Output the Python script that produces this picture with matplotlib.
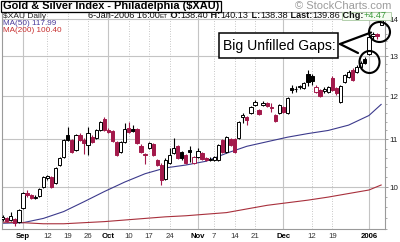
import matplotlib
matplotlib.use("Agg")
import matplotlib.pyplot as plt
import numpy as np
from matplotlib.patches import Rectangle, Ellipse
from matplotlib.lines import Line2D
from matplotlib.ticker import FixedLocator, NullFormatter, FixedFormatter

# ---------------- data ----------------
# trading-day index: 0 = 1-Sep-2005 ... 85 = 3-Jan-2006, 88 = 6-Jan-2006
day_idx = list(range(-5, 89))
opens = [93.78, 93.97, 93.60, 93.78, 93.22,
         95.88, 98.80, 98.41, 97.82, 98.21, 100.00, 101.82, 102.02, 100.80, 104.51,
         106.20, 110.98, 109.88, 107.70, 110.98, 109.88, 108.78, 110.54, 110.32, 112.10,
         114.60, 112.10, 111.88, 109.44, 107.27, 109.44, 112.55, 112.33, 112.33, 108.56,
         106.84, 108.13, 109.00, 105.56, 104.51, 101.61, 104.93, 107.05, 108.56, 107.27,
         106.62, 107.70, 104.93, 106.20, 107.05, 105.98, 105.56, 105.56, 105.56, 109.88,
         107.27, 110.10, 110.10, 110.32, 115.06, 115.06, 115.99, 117.86, 116.69, 117.86,
         118.34, 117.39, 115.52, 115.99, 117.39, 115.99, 121.94, 121.58, 122.07, 121.94,
         125.42, 124.91, 120.97, 121.46, 121.33, 120.97, 124.41, 121.94, 118.58, 123.42,
         124.66, 126.43, 125.92, 127.19, 129.24, 130.50, 135.30, 135.80, 138.40]
highs = [94.54, 94.16, 95.12, 93.97, 95.69,
         99.00, 99.40, 98.61, 98.41, 99.80, 102.23, 102.43, 102.23, 104.09, 106.20,
         110.10, 112.78, 110.10, 111.20, 111.43, 110.32, 112.78, 110.98, 112.33, 114.14,
         115.06, 112.55, 112.10, 109.66, 109.66, 113.69, 113.92, 113.23, 112.55, 109.00,
         107.05, 109.44, 109.22, 105.77, 104.93, 105.98, 108.13, 110.32, 108.78, 107.48,
         106.84, 108.56, 106.41, 108.13, 107.27, 106.20, 106.20, 106.41, 109.00, 110.10,
         110.76, 110.32, 110.32, 114.14, 115.99, 115.29, 117.63, 119.05, 116.92, 118.81,
         118.58, 118.34, 115.76, 118.10, 117.63, 119.77, 122.68, 122.43, 122.68, 123.42,
         126.43, 125.42, 122.68, 121.70, 122.19, 122.43, 124.91, 122.19, 122.68, 125.42,
         126.43, 126.94, 127.70, 128.72, 129.76, 135.61, 136.30, 136.20, 140.13]
lows = [93.41, 93.22, 93.41, 92.48, 93.04,
        95.69, 98.02, 97.62, 97.62, 98.02, 99.80, 101.41, 99.80, 100.60, 104.30,
        105.98, 109.66, 107.05, 107.48, 109.66, 106.84, 106.62, 109.22, 110.10, 111.88,
        111.88, 111.43, 109.44, 106.41, 107.05, 109.22, 111.43, 111.65, 109.00, 107.05,
        104.72, 107.91, 106.41, 104.30, 100.40, 101.41, 104.72, 106.84, 105.77, 105.56,
        104.72, 105.14, 104.72, 105.98, 105.56, 105.35, 105.35, 105.35, 105.35, 107.05,
        107.05, 108.56, 107.05, 110.10, 113.69, 113.23, 115.76, 117.63, 115.52, 117.63,
        117.39, 116.22, 113.92, 115.76, 115.99, 115.76, 120.73, 120.97, 121.70, 121.70,
        122.43, 122.68, 120.73, 119.77, 120.73, 120.73, 121.21, 120.25, 118.34, 123.17,
        124.41, 123.66, 125.67, 126.94, 127.95, 130.28, 134.60, 134.50, 138.38]
closes = [94.16, 93.41, 94.35, 93.04, 95.50,
          98.80, 98.41, 97.82, 98.02, 99.60, 102.02, 102.23, 100.00, 103.88, 105.98,
          109.88, 109.88, 107.27, 110.98, 109.88, 109.22, 111.43, 109.44, 112.10, 113.92,
          112.10, 111.65, 109.66, 106.62, 109.44, 112.33, 111.65, 111.88, 109.22, 107.27,
          106.62, 109.22, 106.62, 104.51, 101.41, 105.56, 106.62, 108.13, 105.98, 105.98,
          104.93, 107.27, 106.20, 107.48, 105.77, 105.56, 105.77, 106.20, 108.78, 107.27,
          110.54, 108.78, 107.27, 113.92, 115.52, 114.37, 117.39, 118.58, 115.76, 118.34,
          117.63, 117.16, 114.14, 117.86, 116.22, 119.53, 121.46, 121.82, 122.31, 123.17,
          123.42, 123.66, 122.19, 120.01, 121.58, 122.19, 121.46, 120.73, 122.43, 125.16,
          125.92, 123.91, 127.19, 128.21, 128.21, 135.10, 135.90, 135.39, 139.86]

ma_idx = [-5, 0, 5, 10, 15, 20, 25, 30, 35, 40, 45, 50, 55, 60, 65, 70, 75, 80, 85, 88]
ma50 = [93.0, 93.1, 93.9, 95.2, 97.1, 99.1, 101.0, 102.7, 103.9, 104.5,
        105.3, 107.0, 108.5, 109.5, 110.5, 111.3, 112.0, 113.2, 115.4, 117.99]
ma200 = [93.2, 93.1, 92.9, 92.9, 93.1, 93.3, 93.6, 93.9, 94.2, 94.4,
         94.7, 95.0, 95.7, 96.4, 96.9, 97.4, 98.0, 98.7, 99.4, 100.40]

tick_idx = [0, 6, 11, 16, 21, 26, 31, 36, 43, 47, 52, 57, 64, 71, 76, 85]
tick_lbl = ['Sep', '12', '19', '26', 'Oct', '10', '17', '24', 'Nov', '7', '14', '21',
            'Dec', '12', '19', '2006']
month_ticks = {'Sep', 'Oct', 'Nov', 'Dec', '2006'}
y_ticks = [100, 110, 120, 130, 140]
y_lbl = ['10', '11', '12', '13', '14']

symbol = '$XAU'
title = 'Gold & Silver Index - Philadelphia ($XAU)'
last_date, last_time = '6-Jan-2006', '16:00'
note_text = 'Big Unfilled Gaps:'

# ---------------- figure ----------------
W, H = 400, 242
fig = plt.figure(figsize=(W / 100, H / 100), dpi=100)
fig.patch.set_facecolor('white')
def fx(px): return px / W
def fy(py): return 1 - py / H

FONT = ['Liberation Sans', 'DejaVu Sans']
plt.rcParams['font.family'] = FONT

ax = fig.add_axes([fx(2), fy(229), fx(385) - fx(2), fy(12) - fy(229)])
ax.set_yscale('log')
ax.set_ylim(91.93, 142.0)
ax.set_xlim(-5.16, 88.95)
ax.set_facecolor('white')

RED = '#a3194b'
idx = np.array(day_idx)
o = np.array(opens); h = np.array(highs); l = np.array(lows); c = np.array(closes)
prev = np.concatenate([[o[0]], c[:-1]])
col = np.where(c >= prev, 'black', RED)
hollow = c >= o
face = np.where(hollow, 'white', col)
top = np.maximum(o, c); bot = np.minimum(o, c)
ax.vlines(idx, l, h, colors=col, lw=0.8, zorder=3)
ax.bar(idx, top - bot, bottom=bot, width=0.8, color=face, edgecolor=col,
       linewidth=0.7, zorder=4)

ax.plot(ma_idx, ma50, color='#3c3a8c', lw=0.8, zorder=2)
ax.plot(ma_idx, ma200, color='#a8303c', lw=0.8, zorder=2)

# grid
for yv in y_ticks:
    ax.axhline(yv, color='#c4c4c4', lw=0.8, zorder=0)
for ti, tl in zip(tick_idx, tick_lbl):
    if tl in month_ticks:
        ax.axvline(ti, color='#c4c4c4', lw=0.8, zorder=0)
    else:
        ax.axvline(ti, color='#b4b4b4', lw=0.6, ls=(0, (1, 2)), zorder=0)

# axes ticks
ax.yaxis.tick_right()
ax.yaxis.set_major_locator(FixedLocator(y_ticks))
ax.yaxis.set_major_formatter(FixedFormatter(y_lbl))
ax.yaxis.set_minor_locator(FixedLocator(list(range(92, 142, 2))))
ax.yaxis.set_minor_formatter(NullFormatter())
ax.tick_params(axis='y', which='major', length=2, width=0.6, color='#888888',
               labelsize=5.8, pad=1.5, labelcolor='#222222')
ax.tick_params(axis='y', which='minor', length=1.5, width=0.5, color='#888888')
ax.set_xticks(tick_idx)
ax.set_xticklabels(tick_lbl)
ax.tick_params(axis='x', length=0, labelsize=5.6, pad=3, labelcolor='#333333')
for t in ax.get_xticklabels():
    if t.get_text() in month_ticks:
        t.set_fontweight('bold')
        t.set_color('black')
for s in ax.spines.values():
    s.set_color('#9a9a9a'); s.set_linewidth(0.8)

fig.canvas.draw()
r = fig.canvas.get_renderer()
def width(t):
    return t.get_window_extent(renderer=r).width
def fit(t, target):
    t.set_fontsize(t.get_fontsize() * target / width(t))

# title bar
tt = fig.text(fx(3), fy(6), title, fontsize=8, fontweight='bold', va='center', ha='left')
fit(tt, 215)
fig.add_artist(Rectangle((fx(0.5), fy(11.5)), fx(221) - fx(0.5), 11 / H,
                         transform=fig.transFigure, fill=False, lw=0.9, ec='black'))
fig.text(fx(391), fy(6), '\u00a9 StockCharts.com', fontsize=8, color='#9c9c9c',
         va='center', ha='right')

# info row
fig.text(fx(3), fy(16), symbol + ' Daily', fontsize=6.0, va='center', ha='left', color='#222222')
chg = closes[-1] - closes[-2]
pieces = [(last_date + ' ' + last_time, {}), ('ET', {'fontsize_scale': 0.7}),
          (' O:', {'fontweight': 'bold'}), ('%.2f' % opens[-1], {}),
          (' H:', {'fontweight': 'bold'}), ('%.2f' % highs[-1], {}),
          (' L:', {'fontweight': 'bold'}), ('%.2f' % lows[-1], {}),
          (' Last:', {'fontweight': 'bold'}), ('%.2f' % closes[-1], {}),
          (' Chg:', {'fontweight': 'bold'}), ('%+.2f' % chg, {'color': '#3a9a3a'})]
fig.add_artist(Rectangle((fx(342), fy(19.5)), fx(391) - fx(342), 8 / H,
                         transform=fig.transFigure, fc='#f5fbf2', ec='#a8c8a0', lw=0.6, zorder=1))
base = 6.8
def draw_row(size):
    x = 88
    arts = []
    for s, kw in pieces:
        kw = dict(kw)
        sc = kw.pop('fontsize_scale', 1.0)
        col_ = kw.pop('color', '#111111')
        t = fig.text(fx(x), fy(16), s, fontsize=size * sc, va='center', ha='left',
                     color=col_, zorder=2, **kw)
        arts.append(t)
        x += width(t)
    return arts, x
arts, xend = draw_row(base)
for a in arts:
    a.remove()
size = base * (388 - 88) / (xend - 88)
draw_row(size)

fig.text(fx(3), fy(23.5), 'MA(50) %.2f' % ma50[-1], fontsize=5.9, color='#4a3c9c',
         va='center', ha='left')
fig.text(fx(3), fy(31), 'MA(200) %.2f' % ma200[-1], fontsize=5.9, color='#c83030',
         va='center', ha='left')

# annotation
fig.add_artist(Rectangle((fx(219.5), fy(58.3)), fx(338.3) - fx(219.5), 25 / H,
                         transform=fig.transFigure, fc='white', ec='black', lw=1.1, zorder=5))
nt = fig.text(fx(279), fy(46), note_text, fontsize=10.3, va='center', ha='center',
              color='black', zorder=6)
fit(nt, 113)
for (x1, y1) in [(371, 32.5), (358, 53)]:
    fig.add_artist(Line2D([fx(340), fx(x1)], [fy(44), fy(y1)], transform=fig.transFigure,
                          color='black', lw=1.6, zorder=6, solid_capstyle='round'))
fig.add_artist(Ellipse((fx(379.5), fy(32)), 21 / W, 20 / H, transform=fig.transFigure,
                       fill=False, ec='black', lw=1.5, zorder=6))
fig.add_artist(Ellipse((fx(369.5), fy(62)), 20 / W, 22 / H, transform=fig.transFigure,
                       fill=False, ec='black', lw=1.5, zorder=6))

fig.savefig('out.png', dpi=100)
